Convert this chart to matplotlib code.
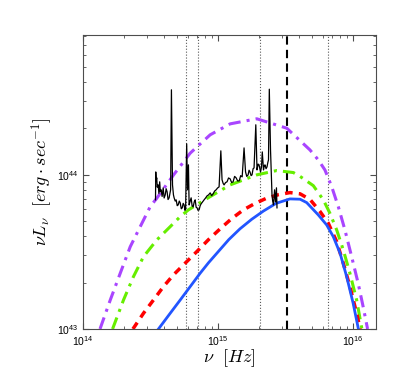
import numpy as np
import matplotlib
matplotlib.use("Agg")
import matplotlib.pyplot as plt
from matplotlib.ticker import LogLocator, NullFormatter

# log10(nu [Hz]) and log10(nu L_nu [erg/s])
purple_lognu = [14.126, 14.202, 14.276, 14.350, 14.424, 14.498, 14.547, 14.671, 14.794, 14.942,
                15.090, 15.287, 15.509, 15.681, 15.743, 15.792, 15.842, 15.891, 15.940, 15.990,
                16.038, 16.075, 16.108]
purple_logL = [43.000, 43.188, 43.362, 43.534, 43.664, 43.794, 43.849, 44.000, 44.141, 44.260,
               44.331, 44.364, 44.303, 44.162, 44.097, 44.032, 43.924, 43.794, 43.643, 43.469,
               43.297, 43.145, 43.000]

green_lognu = [14.219, 14.300, 14.374, 14.448, 14.547, 14.646, 14.720, 14.781, 14.942, 15.090,
               15.287, 15.435, 15.558, 15.608, 15.706, 15.780, 15.829, 15.879, 15.928, 15.977,
               16.027, 16.066]
green_logL = [43.000, 43.188, 43.340, 43.469, 43.578, 43.664, 43.729, 43.773, 43.859, 43.935,
              44.000, 44.028, 44.015, 43.990, 43.930, 43.838, 43.751, 43.643, 43.513, 43.362,
              43.188, 43.000]

red_lognu = [14.370, 14.448, 14.522, 14.596, 14.670, 14.757, 14.843, 14.930, 15.016, 15.100,
             15.188, 15.275, 15.361, 15.450, 15.533, 15.608, 15.682, 15.756, 15.817, 15.879,
             15.928, 15.977, 16.027, 16.053]
red_logL = [43.000, 43.102, 43.188, 43.275, 43.351, 43.427, 43.502, 43.580, 43.650, 43.715,
            43.773, 43.815, 43.849, 43.872, 43.885, 43.877, 43.840, 43.762, 43.686, 43.567,
            43.427, 43.275, 43.102, 43.000]

blue_lognu = [14.559, 14.646, 14.720, 14.794, 14.868, 14.930, 15.000, 15.080, 15.163, 15.250,
              15.336, 15.430, 15.533, 15.608, 15.657, 15.743, 15.805, 15.854, 15.904, 15.953,
              16.001, 16.040]
blue_logL = [43.000, 43.102, 43.188, 43.275, 43.362, 43.430, 43.500, 43.580, 43.650, 43.712,
             43.765, 43.815, 43.844, 43.842, 43.820, 43.740, 43.675, 43.599, 43.492, 43.340,
             43.167, 43.000]

spec_lognu = [14.537, 14.539, 14.542, 14.546, 14.550, 14.557, 14.562, 14.568, 14.573, 14.579,
              14.586, 14.594, 14.601, 14.609, 14.616, 14.623, 14.630, 14.638, 14.644, 14.649,
              14.655, 14.663, 14.670, 14.675, 14.683, 14.690, 14.698, 14.705, 14.713, 14.720,
              14.728, 14.735, 14.742, 14.749, 14.755, 14.760, 14.768, 14.774, 14.781, 14.786,
              14.794, 14.801, 14.808, 14.816, 14.824, 14.831, 14.838, 14.845, 14.852, 14.860,
              14.868, 14.875, 14.886, 14.897, 14.908, 14.919, 14.930, 14.942, 14.953, 14.964,
              14.975, 14.986, 14.997, 15.008, 15.021, 15.030, 15.038, 15.045, 15.056, 15.067,
              15.078, 15.090, 15.101, 15.112, 15.123, 15.134, 15.146, 15.157, 15.168, 15.179,
              15.193, 15.204, 15.213, 15.223, 15.230, 15.237, 15.245, 15.252, 15.260, 15.267,
              15.280, 15.289, 15.297, 15.304, 15.315, 15.322, 15.328, 15.337, 15.343, 15.348,
              15.356, 15.363, 15.369, 15.374, 15.380, 15.389, 15.400, 15.405, 15.411, 15.419,
              15.426, 15.433, 15.437]
spec_logL = [43.838, 44.019, 43.960, 43.981, 43.920, 43.935, 43.880, 43.955, 43.890, 43.903,
             43.860, 43.916, 43.850, 43.870, 43.910, 43.890, 43.840, 43.851, 43.880, 43.903,
             44.552, 43.935, 43.870, 43.851, 43.830, 43.838, 43.800, 43.805, 43.830, 43.818,
             43.780, 43.786, 43.815, 43.805, 43.770, 43.779, 44.201, 43.903, 44.065, 43.805,
             43.830, 43.851, 43.800, 43.792, 43.825, 43.838, 43.790, 43.786, 43.770, 43.773,
             43.800, 43.812, 43.825, 43.838, 43.850, 43.864, 43.870, 43.883, 43.865, 43.877,
             43.895, 43.903, 43.915, 43.922, 44.156, 43.968, 43.945, 43.935, 43.950, 43.955,
             43.980, 43.974, 43.950, 43.955, 43.990, 43.981, 43.960, 43.961, 43.995, 43.987,
             44.175, 44.019, 43.990, 44.000, 44.030, 44.019, 43.995, 44.000, 44.040, 44.045,
             44.325, 44.032, 44.070, 44.065, 44.019, 44.050, 44.149, 44.032, 44.060, 44.065,
             44.040, 44.052, 44.080, 44.097, 44.556, 44.162, 43.870, 43.830, 43.805, 43.903,
             43.825, 43.916, 43.786]

dotted_nu = [5.8e14, 7.1e14, 2.05e15, 6.5e15]
dashed_nu = 3.24e15

plt.rcParams['font.family'] = ['Liberation Sans', 'DejaVu Sans']

fig = plt.figure(figsize=(4.15, 3.79), dpi=100)
ax = fig.add_axes([0.2, 0.132, 0.706, 0.776])

tp = lambda a: np.power(10.0, np.array(a))

for nu in dotted_nu:
    ax.axvline(nu, color='0.35', linestyle=':', linewidth=0.8, zorder=1)
ax.axvline(dashed_nu, color='black', linestyle=(0, (4, 2.5)), linewidth=1.5, zorder=1)

ax.plot(tp(spec_lognu), tp(spec_logL), color='black', linewidth=0.9, zorder=3)
ax.plot(tp(purple_lognu), tp(purple_logL), color='#a945ff', linestyle=(0, (4, 2, 1, 2)), linewidth=2.2, zorder=2)
ax.plot(tp(green_lognu), tp(green_logL), color='#66ee00', linestyle=(0, (4, 2, 1, 2)), linewidth=2.2, zorder=2)
ax.plot(tp(red_lognu), tp(red_logL), color='#ff0000', linestyle=(0, (2.2, 1.8)), linewidth=2.5, zorder=2)
ax.plot(tp(blue_lognu), tp(blue_logL), color='#2255ff', linestyle='-', linewidth=2.0, zorder=2)

ax.set_xscale('log')
ax.set_yscale('log')
ax.set_xlim(1e14, 1.48e16)
ax.set_ylim(1e43, 8.1e44)

ax.xaxis.set_major_locator(LogLocator(base=10, numticks=10))
ax.yaxis.set_major_locator(LogLocator(base=10, numticks=10))
ax.xaxis.set_minor_formatter(NullFormatter())
ax.yaxis.set_minor_formatter(NullFormatter())
ax.tick_params(which='both', direction='in', top=True, right=True, colors='0.3', labelcolor='black')
ax.tick_params(which='major', length=4, labelsize=7.5)
ax.tick_params(which='minor', length=2)
for sp in ax.spines.values():
    sp.set_color('0.3')
    sp.set_linewidth(0.8)

ax.set_xlabel(r'$\nu\ \ [Hz]$', fontsize=13, math_fontfamily='cm', labelpad=0)
ax.set_ylabel(r'$\nu L_\nu\ \ [erg \cdot sec^{-1}]$', fontsize=13, math_fontfamily='cm', labelpad=1)

fig.savefig('out.png', dpi=100)
